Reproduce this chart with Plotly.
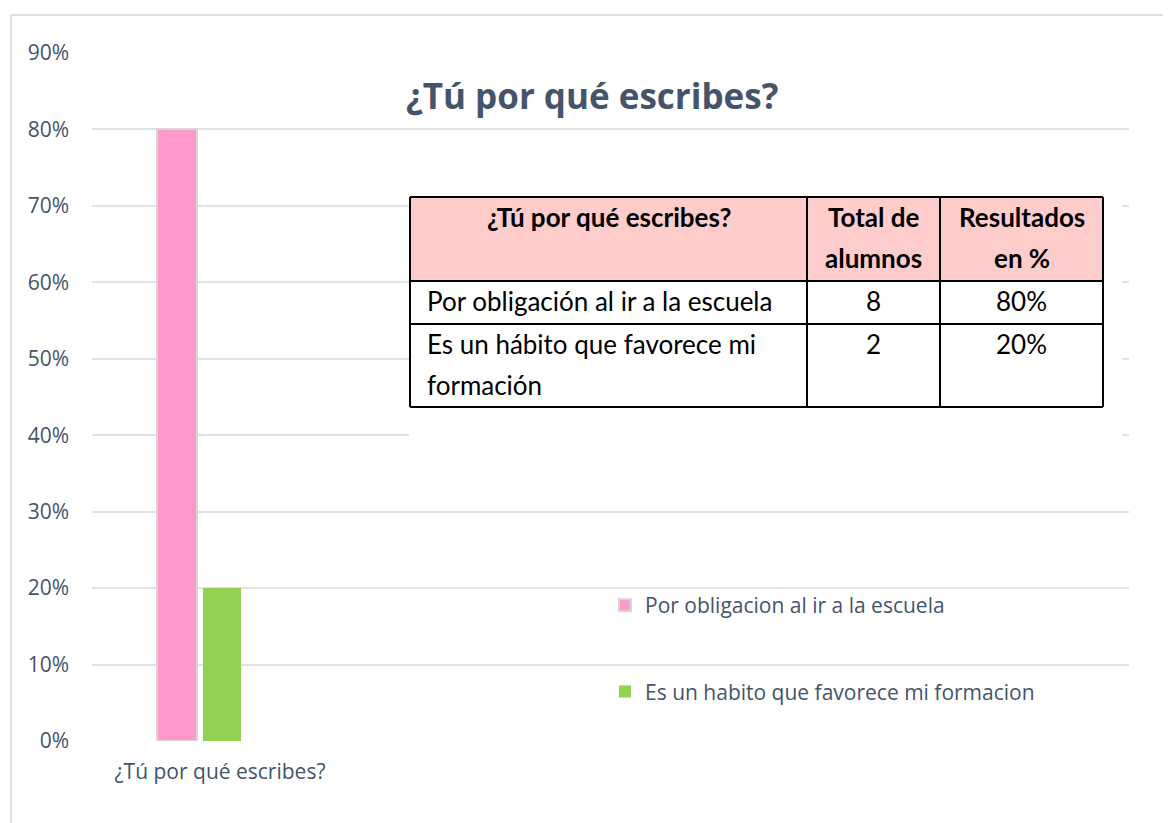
import plotly.graph_objects as go

# ---- data ----
category = ["¿Tú por qué escribes?"]
series_names = ["Por obligacion al ir a la escuela", "Es un habito que favorece mi formacion"]
series_values = [0.80, 0.20]
series_colors = ["#FF99CC", "#92D050"]

title_text = "¿Tú por qué escribes?"
table_header = [["¿Tú por qué escribes?"], ["Total de", "alumnos"], ["Resultados", "en %"]]
table_labels = [["Por obligación al ir a la escuela"], ["Es un hábito que favorece mi", "formación"]]
table_totals = ["8", "2"]
table_percents = ["80%", "20%"]

# ---- layout geometry (screen pixels; page body has an 8px margin) ----
W, H = 1171, 823
OFF = 8
L, R, T, B = 92, 1129, 53, 741
PW, PH = R - L, B - T


def px(x):
    return (x - L) / PW


def py(y):
    return (B - y) / PH


unit = 214.0  # pixels per x unit
x_range = [-0.5, PW / unit - 0.5]
cat_center_px = 199
bar_lefts_px = [157, 203]
bar_widths_px = [40, 38]

fig = go.Figure()
for i, (name, val, col) in enumerate(zip(series_names, series_values, series_colors)):
    fig.add_trace(go.Bar(
        x=category, y=[val], name=name,
        marker=dict(color=col,
                    line=dict(color="#D6D6D6" if i == 0 else col, width=2 if i == 0 else 0)),
        width=bar_widths_px[i] / unit,
        offset=(bar_lefts_px[i] - cat_center_px) / unit,
        legendgroup=f"g{i}",
        hoverinfo="y",
    ))

shapes = []
annotations = []

# chart outer border (left and top)
border_col = "#DCE1E8"
shapes.append(dict(type="line", xref="paper", yref="paper", x0=px(11), x1=px(11), y0=py(830), y1=py(15),
                   line=dict(color=border_col, width=2), layer="below"))
shapes.append(dict(type="line", xref="paper", yref="paper", x0=px(11), x1=px(1180), y0=py(15), y1=py(15),
                   line=dict(color=border_col, width=2), layer="below"))

# white mask behind table
shapes.append(dict(type="rect", xref="paper", yref="paper", x0=px(409), x1=px(1122), y0=py(440), y1=py(192),
                   fillcolor="white", line=dict(width=0), layer="above"))

# table geometry
cols = [410, 807, 940, 1103]
rows = [197, 281, 324, 407]
shapes.append(dict(type="rect", xref="paper", yref="paper", x0=px(cols[0]), x1=px(cols[3]),
                   y0=py(rows[1]), y1=py(rows[0]), fillcolor="#FFCCCC", line=dict(width=0), layer="above"))
for c in cols:
    shapes.append(dict(type="line", xref="paper", yref="paper", x0=px(c), x1=px(c), y0=py(rows[3]), y1=py(rows[0]),
                       line=dict(color="black", width=2), layer="above"))
for r in rows:
    shapes.append(dict(type="line", xref="paper", yref="paper", x0=px(cols[0]), x1=px(cols[3]), y0=py(r), y1=py(r),
                       line=dict(color="black", width=2), layer="above"))

tfont = "Lato, Carlito, Calibri, sans-serif"
tsize = 26
line_gap = 41


def table_text(txt, x, y, anchor, bold=False):
    annotations.append(dict(text=f"<b>{txt}</b>" if bold else txt, xref="paper", yref="paper",
                            x=px(x), y=py(y), xanchor=anchor, yanchor="middle", showarrow=False,
                            font=dict(family=tfont, size=tsize, color="black")))


header_x = [(cols[0] + cols[1]) / 2, (cols[1] + cols[2]) / 2, (cols[2] + cols[3]) / 2]
for hx, hlines in zip(header_x, table_header):
    for k, t in enumerate(hlines):
        table_text(t, hx, 217 + k * line_gap, "center", bold=True)
row_mid = [301, 344]
for rm, lab, tot, pct in zip(row_mid, table_labels, table_totals, table_percents):
    for k, t in enumerate(lab):
        table_text(t, 425, rm + k * line_gap, "left")
    table_text(tot, header_x[1], rm, "center")
    table_text(pct, header_x[2], rm, "center")

# title
annotations.append(dict(text=f"<b>{title_text}</b>", xref="paper", yref="paper", x=px(592), y=py(95),
                        xanchor="center", yanchor="middle", showarrow=False,
                        font=dict(family="Open Sans, sans-serif", size=35, color="#44546A")))

txt_col = "#44546A"
fig.update_layout(
    width=W - OFF, height=H - OFF,
    margin=dict(l=L - OFF, r=W - R, t=T - OFF, b=H - B, pad=0),
    paper_bgcolor="white", plot_bgcolor="white",
    font=dict(family="Open Sans, sans-serif", size=21, color=txt_col),
    showlegend=True,
    legend=dict(x=px(605), y=py(585), xanchor="left", yanchor="top",
                bgcolor="rgba(0,0,0,0)", tracegroupgap=56,
                font=dict(family="Open Sans, sans-serif", size=21, color=txt_col)),
    xaxis=dict(range=x_range, tickvals=[(220 - cat_center_px) / unit], ticktext=category,
               showgrid=False, zeroline=False, showline=False, ticks="",
               tickfont=dict(size=21, color=txt_col), ticklabelstandoff=16),
    yaxis=dict(range=[0, 0.9], dtick=0.1, tick0=0, tickformat=".0%",
               showgrid=True, gridcolor="#DFE3E9", gridwidth=2, zeroline=False,
               showline=False, ticks="", ticklabelstandoff=22,
               tickfont=dict(size=21, color=txt_col)),
    bargap=0, barmode="group",
    shapes=shapes, annotations=annotations,
)

fig.write_html("out.html")
